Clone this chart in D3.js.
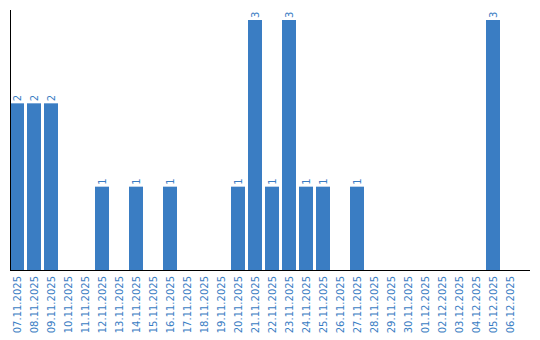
<!DOCTYPE html>
<html><head><meta charset="utf-8">
<script src="https://cdn.jsdelivr.net/npm/d3@7"></script>
<style>body{margin:0;background:#fff}svg{display:block}</style>
</head><body>
<svg id="c" width="540" height="340"></svg>
<script>
const dates = ["07.11.2025","08.11.2025","09.11.2025","10.11.2025","11.11.2025","12.11.2025","13.11.2025","14.11.2025","15.11.2025","16.11.2025","17.11.2025","18.11.2025","19.11.2025","20.11.2025","21.11.2025","22.11.2025","23.11.2025","24.11.2025","25.11.2025","26.11.2025","27.11.2025","28.11.2025","29.11.2025","30.11.2025","01.12.2025","02.12.2025","03.12.2025","04.12.2025","05.12.2025","06.12.2025"];
const counts = [2,2,2,0,0,1,0,1,0,1,0,0,0,1,3,1,3,1,1,0,1,0,0,0,0,0,0,0,3,0];

const svg = d3.select("#c");
const color = "#3a7dc3";
const x = d3.scaleBand().domain(dates).range([10, 517]).paddingInner(3/17).paddingOuter(0);
const y = d3.scaleLinear().domain([0, 3]).range([270, 20]);
const data = dates.map((d,i)=>({d, v: counts[i]}));

svg.selectAll("rect.bar").data(data.filter(e=>e.v>0)).enter().append("rect")
  .attr("x", e=>x(e.d)).attr("width", x.bandwidth())
  .attr("y", e=>y(e.v)).attr("height", e=>y(0)-y(e.v))
  .attr("fill", color);

svg.selectAll("text.val").data(data.filter(e=>e.v>0)).enter().append("text")
  .attr("transform", e=>`translate(${x(e.d)+x.bandwidth()/2+3.5},${y(e.v)-2}) rotate(-90)`)
  .attr("font-family","DejaVu Sans").attr("font-size",10).attr("fill",color)
  .text(e=>e.v);

const gx = svg.append("g").attr("transform","translate(0,270)")
  .call(d3.axisBottom(x).tickSize(0).tickPadding(0));
gx.select(".domain").remove();
gx.selectAll("text")
  .attr("font-family","DejaVu Sans").attr("font-size",10).attr("fill",color)
  .attr("text-anchor","end").attr("dy",null).attr("y",0)
  .attr("transform","translate(3.5,6) rotate(-90)");

svg.append("line").attr("x1",10).attr("x2",530).attr("y1",270.5).attr("y2",270.5).attr("stroke","#000");
svg.append("line").attr("x1",10.5).attr("x2",10.5).attr("y1",10).attr("y2",270).attr("stroke","#000");
</script>
</body></html>
